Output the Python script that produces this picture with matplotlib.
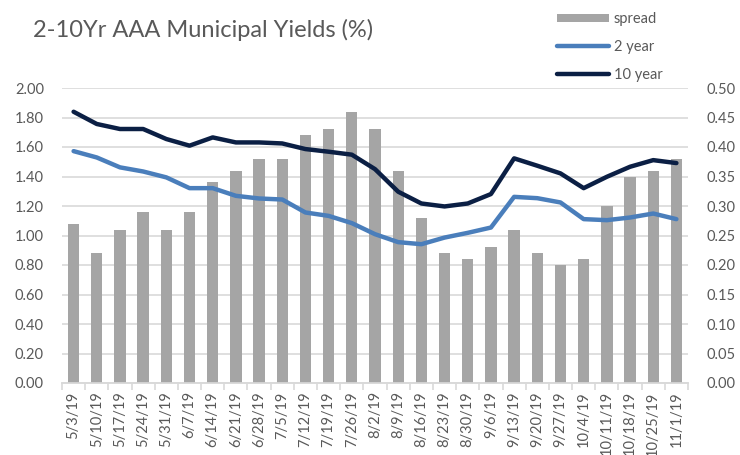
import matplotlib
matplotlib.use("Agg")
import matplotlib.pyplot as plt
import numpy as np
from matplotlib.patches import Patch
from matplotlib.lines import Line2D

dates = ["5/3/19", "5/10/19", "5/17/19", "5/24/19", "5/31/19", "6/7/19", "6/14/19",
         "6/21/19", "6/28/19", "7/5/19", "7/12/19", "7/19/19", "7/26/19", "8/2/19",
         "8/9/19", "8/16/19", "8/23/19", "8/30/19", "9/6/19", "9/13/19", "9/20/19",
         "9/27/19", "10/4/19", "10/11/19", "10/18/19", "10/25/19", "11/1/19"]
spread = [0.27, 0.22, 0.26, 0.29, 0.26, 0.29, 0.34, 0.36, 0.38, 0.38, 0.42, 0.43, 0.46,
          0.43, 0.36, 0.28, 0.22, 0.21, 0.23, 0.26, 0.22, 0.20, 0.21, 0.30, 0.35, 0.36, 0.38]
two_year = [1.572, 1.529, 1.462, 1.434, 1.394, 1.321, 1.321, 1.269, 1.251, 1.244, 1.156,
            1.133, 1.084, 1.009, 0.955, 0.941, 0.986, 1.018, 1.054, 1.262, 1.253, 1.224,
            1.111, 1.104, 1.122, 1.149, 1.111]
ten_year = [1.839, 1.756, 1.722, 1.722, 1.654, 1.609, 1.665, 1.631, 1.631, 1.624, 1.586,
            1.568, 1.548, 1.450, 1.297, 1.217, 1.197, 1.217, 1.281, 1.523, 1.473, 1.421,
            1.321, 1.398, 1.466, 1.511, 1.491]
left_ticks = [0.0, 0.2, 0.4, 0.6, 0.8, 1.0, 1.2, 1.4, 1.6, 1.8, 2.0]
right_ticks = [0.0, 0.05, 0.10, 0.15, 0.20, 0.25, 0.30, 0.35, 0.40, 0.45, 0.50]

plt.rcParams['font.family'] = ['Lato', 'DejaVu Sans']
txt = '#595959'
grid_c = '#d9d9d9'
bar_c = '#a5a5a5'
c2 = '#4a7ebb'
c10 = '#0b1f44'

fig = plt.figure(figsize=(7.4, 4.55), dpi=100)
ax = fig.add_axes([62/740, 1-383/455, (688-62)/740, (383-88)/455])
ax2 = ax.twinx()

x = np.arange(len(dates))
ax2.bar(x, spread, width=0.49, color=bar_c, zorder=2)
ax2.set_ylim(0, 0.5)
ax2.set_yticks(right_ticks)
ax2.set_yticklabels([f"{v:.2f}" for v in right_ticks])

ax.set_ylim(0, 2.0)
ax.set_yticks(left_ticks)
ax.set_yticklabels([f"{v:.2f}" for v in left_ticks])
ax.set_xlim(-0.5, len(dates) - 0.5)
ax.grid(axis='y', color=grid_c, linewidth=1.2, zorder=0)
ax.set_axisbelow(True)

ax2.plot(x, np.array(two_year) / 4.0, color=c2, linewidth=3.2, solid_capstyle='round',
         solid_joinstyle='round', zorder=3)
ax2.plot(x, np.array(ten_year) / 4.0, color=c10, linewidth=3.2, solid_capstyle='round',
         solid_joinstyle='round', zorder=4)

for a in (ax, ax2):
    for s in ('top', 'left', 'right'):
        a.spines[s].set_visible(False)
    a.spines['bottom'].set_color(grid_c)
    a.spines['bottom'].set_linewidth(1.2)
    a.tick_params(axis='y', length=0, labelsize=10.5, labelcolor=txt, pad=13)

ax.set_xticks(x)
ax.set_xticklabels(dates, rotation=90, fontsize=10.5, color=txt)
ax.set_xticks(np.arange(-0.5, len(dates), 1.0), minor=True)
ax.tick_params(axis='x', which='major', length=0, pad=6)
ax.tick_params(axis='x', which='minor', length=5, color=grid_c, width=1.2)

fig.text(33/740, 1-37/455, "2-10Yr AAA Municipal Yields (%)", fontsize=17, color=txt,
         ha='left', va='baseline')

handles = [Patch(facecolor=bar_c, edgecolor='none'),
           Line2D([0], [0], color=c2, linewidth=3.2, solid_capstyle='round'),
           Line2D([0], [0], color=c10, linewidth=3.2, solid_capstyle='round')]
fig.legend(handles, ["spread", "2 year", "10 year"], loc='upper left',
           bbox_to_anchor=(551/740, 1-6/455), frameon=False, fontsize=10.5,
           labelcolor=txt, handlelength=3.6, handleheight=0.5, handletextpad=0.3,
           labelspacing=0.95, borderaxespad=0)

fig.savefig("out.png", dpi=100)
